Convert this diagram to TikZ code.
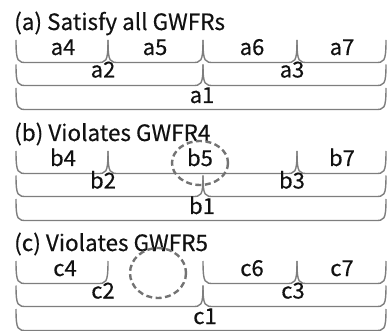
\documentclass[tikz,border=0pt]{standalone}
\usepackage{fontspec}
\setmainfont{Noto Sans CJK JP}[FakeBold=0.4]
\definecolor{linegray}{HTML}{7E7E7E}
\definecolor{dashgray}{HTML}{737373}
\definecolor{inkblack}{HTML}{111111}
% one bracket segment: left x, right x, top y, bottom y
\newcommand\ubrace[4]{%
  \draw[bracket] (#1,#3) .. controls (#1,#4) and (#1+2,#4) .. (#1+11,#4)
    -- (#2-11,#4) .. controls (#2-2,#4) and (#2,#4) .. (#2,#3);}
\tikzset{
  bracket/.style={draw=linegray, line width=1.4pt},
  lbl/.style={anchor=base, inner sep=0pt, text=inkblack, font=\fontsize{22}{22}\selectfont},
  ttl/.style={anchor=base west, inner sep=0pt, text=inkblack, font=\fontsize{22.5}{22.5}\selectfont},
  hole/.style={draw=dashgray, line width=2.4pt, dash pattern=on 6pt off 3.5pt}
}
\begin{document}
\begin{tikzpicture}[x=1pt, y=-1pt]
\useasboundingbox (0,0) rectangle (388,331);
% panel (a)
\begin{scope}
  \node[ttl] (ta) at (14,30) {(a) Satisfy all GWFRs};
  \ubrace{16}{108}{40}{62.5}
  \ubrace{108}{203}{40}{62.5}
  \ubrace{203}{297}{40}{62.5}
  \ubrace{297}{386}{40}{62.5}
  \ubrace{16}{203}{64.5}{85.5}
  \ubrace{203}{386}{64.5}{85.5}
  \ubrace{16}{386}{88}{109.5}
  \node[lbl] (a4) at (63,55) {a4};
  \node[lbl] (a5) at (155,55) {a5};
  \node[lbl] (a6) at (252,55) {a6};
  \node[lbl] (a7) at (342,55) {a7};
  \node[lbl] (a2) at (103,77.5) {a2};
  \node[lbl] (a3) at (292,77.5) {a3};
  \node[lbl] (a1) at (202,103) {a1};
\end{scope}
% panel (b)
\begin{scope}[yshift=-111pt]
  \node[ttl] (tb) at (14,30) {(b) Violates GWFR4};
  \ubrace{16}{108}{40}{62.5}
  \ubrace{108}{297}{40}{62.5}
  \ubrace{297}{386}{40}{62.5}
  \ubrace{16}{203}{64.5}{85.5}
  \ubrace{203}{386}{64.5}{85.5}
  \ubrace{16}{386}{88}{109.5}
  \node[lbl] (b4) at (63,55) {b4};
  \node[lbl] (b5) at (200,55) {b5};
  \node[lbl] (b7) at (342,55) {b7};
  \node[lbl] (b2) at (103,77.5) {b2};
  \node[lbl] (b3) at (292,77.5) {b3};
  \node[lbl] (b1) at (202,103) {b1};
  \draw[hole] (200,52) ellipse [x radius=28, y radius=22];
\end{scope}
% panel (c)
\begin{scope}[yshift=-221pt]
  \node[ttl] (tc) at (14,30) {(c) Violates GWFR5};
  \ubrace{16}{108}{40}{62.5}
  \ubrace{203}{297}{40}{62.5}
  \ubrace{297}{386}{40}{62.5}
  \ubrace{16}{203}{64.5}{85.5}
  \ubrace{203}{386}{64.5}{85.5}
  \ubrace{16}{386}{88}{109.5}
  \node[lbl] (c4) at (65,55) {c4};
  \node[lbl] (c6) at (252,55) {c6};
  \node[lbl] (c7) at (342,55) {c7};
  \node[lbl] (c2) at (103,77.5) {c2};
  \node[lbl] (c3) at (293,77.5) {c3};
  \node[lbl] (c1) at (205,103) {c1};
  \draw[hole] (158,52) ellipse [x radius=28, y radius=25];
\end{scope}
\end{tikzpicture}
\end{document}
